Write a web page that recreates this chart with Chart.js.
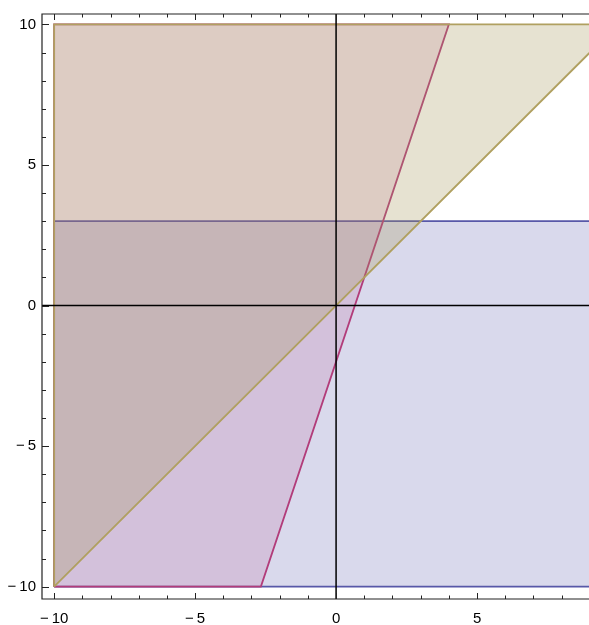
<!DOCTYPE html>
<html>
<head>
<meta charset="utf-8">
<script src="https://cdn.jsdelivr.net/npm/chart.js@4"></script>
<style>
  html, body { margin: 0; padding: 0; background: #fff; overflow: hidden; }
  #wrap { width: 589px; height: 625px; }
</style>
</head>
<body>
<div id="wrap"><canvas id="regions"></canvas></div>
<script>
// region vertices (data units), closed polygons
var tanX  = [-10, 10, -10, -10];          // y >= x
var tanY  = [-10, 10, 10, -10];
var redX  = [-10, -8 / 3, 4, -10, -10];   // y >= 3x - 2
var redY  = [-10, -10, 10, 10, -10];
var blueX = [-10, 10, 10, -10, -10];      // y <= 3
var blueY = [-10, -10, 3, 3, -10];

var xTicks = [-10, -9, -8, -7, -6, -5, -4, -3, -2, -1, 0, 1, 2, 3, 4, 5, 6, 7, 8];
var yTicks = [-10, -9, -8, -7, -6, -5, -4, -3, -2, -1, 0, 1, 2, 3, 4, 5, 6, 7, 8, 9, 10];
var xTickLabels = [-10, -5, 0, 5];
var yTickLabels = [-10, -5, 0, 5, 10];

function pts(xs, ys) {
  return xs.map(function (x, i) { return { x: x, y: ys[i] }; });
}

function fmt(v) {
  return v < 0 ? '\u2212\u2009' + Math.abs(v) : String(v);
}

// frame, inward tick marks and the axes through 0
var framePlugin = {
  id: 'frame',
  afterDatasetsDraw: function (chart) {
    var ctx = chart.ctx, a = chart.chartArea;
    var xs = chart.scales.x, ys = chart.scales.y;
    ctx.save();
    // axes
    ctx.strokeStyle = '#000';
    ctx.lineWidth = 1.5;
    ctx.beginPath();
    ctx.moveTo(a.left, ys.getPixelForValue(0));
    ctx.lineTo(a.right, ys.getPixelForValue(0));
    ctx.moveTo(xs.getPixelForValue(0), a.top);
    ctx.lineTo(xs.getPixelForValue(0), a.bottom);
    ctx.stroke();
    // frame
    ctx.strokeStyle = '#222';
    ctx.lineWidth = 1.2;
    ctx.beginPath();
    ctx.moveTo(a.right + 2, a.top);
    ctx.lineTo(a.left, a.top);
    ctx.lineTo(a.left, a.bottom);
    ctx.lineTo(a.right + 2, a.bottom);
    ctx.stroke();
    // ticks
    ctx.lineWidth = 1;
    ctx.beginPath();
    xs.ticks.forEach(function (t) {
      var len = t.value % 5 === 0 ? 6 : 3.5;
      var px = Math.round(xs.getPixelForValue(t.value)) + 0.5;
      ctx.moveTo(px, a.bottom); ctx.lineTo(px, a.bottom - len);
      ctx.moveTo(px, a.top); ctx.lineTo(px, a.top + len);
    });
    ys.ticks.forEach(function (t) {
      var len = t.value % 5 === 0 ? 7 : 4;
      var py = Math.round(ys.getPixelForValue(t.value)) + 0.5;
      ctx.moveTo(a.left, py); ctx.lineTo(a.left + len, py);
    });
    ctx.stroke();
    ctx.restore();
  }
};

var plot = document.getElementById('regions').getContext('2d');
var myChart = new Chart(plot, {
  type: 'scatter',
  data: {
    datasets: [{
      label: 'y >= x',
      data: pts(tanX, tanY),
      showLine: true,
      fill: 'shape',
      backgroundColor: 'rgba(165, 150, 90, 0.28)',
      borderColor: 'rgb(176, 160, 96)',
      borderWidth: 1.8,
      pointRadius: 0,
      tension: 0,
      order: 1
    }, {
      label: 'y >= 3x - 2',
      data: pts(redX, redY),
      showLine: true,
      fill: 'shape',
      backgroundColor: 'rgba(180, 70, 130, 0.16)',
      borderColor: 'rgb(178, 60, 122)',
      borderWidth: 1.8,
      pointRadius: 0,
      tension: 0,
      order: 2
    }, {
      label: 'y <= 3',
      data: pts(blueX, blueY),
      showLine: true,
      fill: 'shape',
      backgroundColor: 'rgba(80, 80, 170, 0.22)',
      borderColor: 'rgb(88, 88, 168)',
      borderWidth: 1.8,
      pointRadius: 0,
      tension: 0,
      order: 3
    }]
  },
  options: {
    responsive: true,
    maintainAspectRatio: false,
    animation: false,
    layout: { padding: { top: 14, right: 0, left: 0, bottom: 0 } },
    plugins: { legend: { display: false }, tooltip: { enabled: false } },
    scales: {
      x: {
        type: 'linear',
        min: -10.43,
        max: 8.97,
        grid: { display: false, drawTicks: false },
        border: { display: false },
        afterFit: function (s) { s.height = 26; s.paddingLeft = 0; s.paddingRight = 0; },
        afterBuildTicks: function (s) { s.ticks = xTicks.map(function (v) { return { value: v }; }); },
        ticks: {
          autoSkip: false,
          maxRotation: 0,
          padding: 11,
          color: '#000',
          font: { family: 'Liberation Sans', size: 15 },
          callback: function (v) { return xTickLabels.indexOf(v) >= 0 ? fmt(v) : ''; }
        }
      },
      y: {
        type: 'linear',
        min: -10.44,
        max: 10.37,
        grid: { display: false, drawTicks: false },
        border: { display: false },
        afterFit: function (s) { s.width = 42; s.paddingTop = 0; s.paddingBottom = 0; },
        afterBuildTicks: function (s) { s.ticks = yTicks.map(function (v) { return { value: v }; }); },
        ticks: {
          autoSkip: false,
          padding: 6,
          color: '#000',
          font: { family: 'Liberation Sans', size: 15 },
          callback: function (v) { return yTickLabels.indexOf(v) >= 0 ? fmt(v) : ''; }
        }
      }
    }
  },
  plugins: [framePlugin]
});
</script>
</body>
</html>
